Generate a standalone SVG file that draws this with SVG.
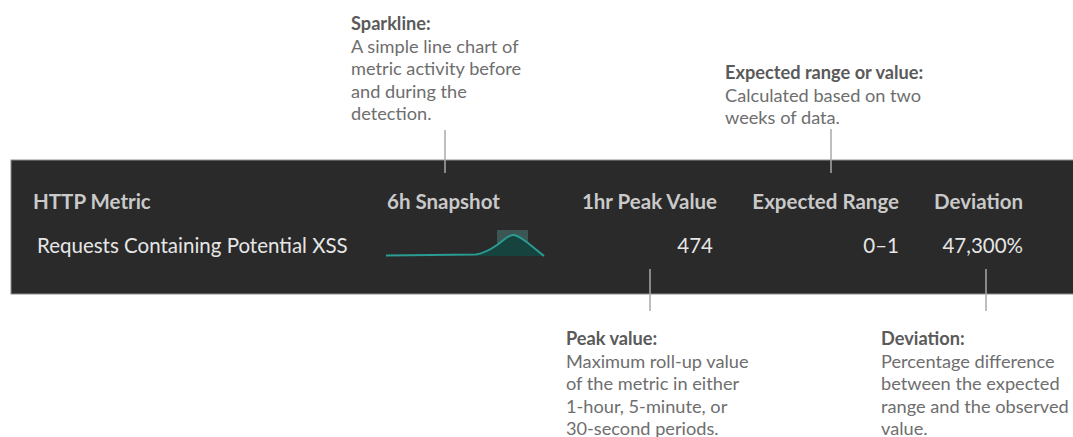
<svg xmlns="http://www.w3.org/2000/svg" width="1073" height="437" viewBox="0 0 1073 437">
  <style>
    .ann-t { font-family: Lato, "Liberation Sans", sans-serif; font-size: 18.2px; font-weight: 700; fill: #5a5a5a; }
    .ann { font-family: Lato, "Liberation Sans", sans-serif; font-size: 18.2px; fill: #6e6e6e; }
    .hdr { font-family: Lato, "Liberation Sans", sans-serif; font-size: 20.5px; font-weight: 700; fill: #c9c9c9; }
    .val { font-family: Lato, "Liberation Sans", sans-serif; font-size: 20.5px; fill: #e6e6e6; }
    .conn { stroke: #a8a8a8; stroke-width: 1.5; fill: none; }
  </style>
  <rect width="1073" height="437" fill="#ffffff"/>

  <g id="table">
    <rect x="11" y="160" width="1070" height="134" fill="#2a2a2a" stroke="#8c8c8c" stroke-width="1"/>
    <text class="hdr" x="33" y="209">HTTP Metric</text>
    <text class="hdr" x="387" y="209">6h Snapshot</text>
    <text class="hdr" x="717" y="209" text-anchor="end">1hr Peak Value</text>
    <text class="hdr" x="899" y="209" text-anchor="end">Expected Range</text>
    <text class="hdr" x="1023" y="209" text-anchor="end">Deviation</text>
    <text class="val" x="37" y="253">Requests Containing Potential XSS</text>
    <text class="val" x="713" y="253" text-anchor="end">474</text>
    <text class="val" x="899" y="253" text-anchor="end">0–1</text>
    <text class="val" x="1023" y="253" text-anchor="end">47,300%</text>
  </g>

  <g id="sparkline">
    <rect x="497" y="230" width="31" height="26" fill="#3c5653"/>
    <path d="M477,254 C485,253 490,250 497,245 C504,240 508,235 513,235 C518,235 522,239 528,243 L544,256 L477,256 Z" fill="#17433f"/>
    <path d="M386,255.5 L476,254.5 C485,253 490,250 497,245 C504,240 508,235 513,235 C518,235 522,239 528,243 L544,256" fill="none" stroke="#2a9c93" stroke-width="2"/>
  </g>

  <g id="connectors">
    <line class="conn" x1="445" y1="130" x2="445" y2="173"/>
    <line class="conn" x1="831" y1="129" x2="831" y2="173"/>
    <line class="conn" x1="650" y1="269" x2="650" y2="311"/>
    <line class="conn" x1="986" y1="269" x2="986" y2="311"/>
  </g>

  <g id="note-sparkline">
    <text class="ann-t" x="351" y="30">Sparkline:</text>
    <text class="ann" x="351" y="52.5">A simple line chart of</text>
    <text class="ann" x="351" y="75">metric activity before</text>
    <text class="ann" x="351" y="97.5">and during the</text>
    <text class="ann" x="351" y="120">detection.</text>
  </g>

  <g id="note-expected">
    <text class="ann-t" x="725" y="79">Expected range or value:</text>
    <text class="ann" x="725" y="101.5">Calculated based on two</text>
    <text class="ann" x="725" y="124">weeks of data.</text>
  </g>

  <g id="note-peak">
    <text class="ann-t" x="566" y="345">Peak value:</text>
    <text class="ann" x="566" y="367.5">Maximum roll-up value</text>
    <text class="ann" x="566" y="390">of the metric in either</text>
    <text class="ann" x="566" y="412.5">1-hour, 5-minute, or</text>
    <text class="ann" x="566" y="435">30-second periods.</text>
  </g>

  <g id="note-deviation">
    <text class="ann-t" x="881" y="345">Deviation:</text>
    <text class="ann" x="881" y="367.5">Percentage difference</text>
    <text class="ann" x="881" y="390">between the expected</text>
    <text class="ann" x="881" y="412.5">range and the observed</text>
    <text class="ann" x="881" y="435">value.</text>
  </g>
</svg>
